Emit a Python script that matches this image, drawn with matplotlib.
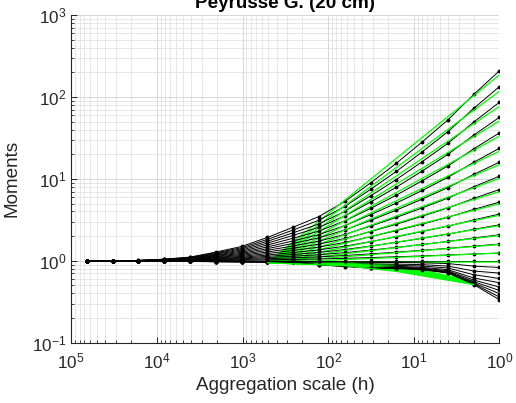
import matplotlib
matplotlib.use("Agg")
import numpy as np
import matplotlib.pyplot as plt

plt.rcParams["font.family"] = ["Liberation Sans", "DejaVu Sans"]
plt.rcParams["mathtext.fontset"] = "custom"
plt.rcParams["mathtext.rm"] = "Liberation Sans"
plt.rcParams["mathtext.it"] = "Liberation Sans:italic"
plt.rcParams["mathtext.bf"] = "Liberation Sans:bold"

# aggregation scales (h), coarse -> fine
scales = [65536, 32768, 16384, 8192, 4096, 2048, 1024, 512, 256,
          128, 64, 32, 16, 8, 4, 2, 1]
q_values = [2.5, 2.4, 2.3, 2.2, 2.1, 2.0, 1.9, 1.8, 1.7, 1.6, 1.5, 1.4, 1.3,
            1.2, 1.1, 1.0, 0.9, 0.8, 0.7, 0.6, 0.5, 0.4, 0.3, 0.2, 0.1]

# log10 of the empirical moments, one row per q (black)
log_moments = [
    [0, 0.001, 0.004, 0.020, 0.045, 0.106, 0.175, 0.285, 0.410, 0.540, 0.724, 0.950, 1.190, 1.450, 1.720, 2.030, 2.320],
    [0, 0.001, 0.004, 0.018, 0.041, 0.097, 0.160, 0.261, 0.376, 0.495, 0.663, 0.871, 1.091, 1.329, 1.576, 1.860, 2.126],
    [0, 0.001, 0.003, 0.017, 0.038, 0.088, 0.146, 0.238, 0.342, 0.450, 0.604, 0.792, 0.992, 1.209, 1.434, 1.693, 1.935],
    [0, 0.001, 0.003, 0.015, 0.034, 0.080, 0.132, 0.215, 0.310, 0.408, 0.547, 0.717, 0.898, 1.095, 1.299, 1.533, 1.752],
    [0, 0.001, 0.003, 0.013, 0.030, 0.071, 0.118, 0.192, 0.276, 0.363, 0.487, 0.639, 0.801, 0.976, 1.158, 1.366, 1.561],
    [0, 0.001, 0.002, 0.012, 0.027, 0.063, 0.104, 0.169, 0.243, 0.320, 0.429, 0.562, 0.704, 0.858, 1.018, 1.202, 1.374],
    [0, 0, 0.002, 0.010, 0.023, 0.055, 0.091, 0.148, 0.213, 0.280, 0.376, 0.493, 0.618, 0.753, 0.893, 1.054, 1.204],
    [0, 0, 0.002, 0.009, 0.020, 0.047, 0.078, 0.127, 0.182, 0.240, 0.322, 0.423, 0.530, 0.645, 0.765, 0.903, 1.033],
    [0, 0, 0.002, 0.008, 0.017, 0.040, 0.066, 0.107, 0.154, 0.203, 0.272, 0.356, 0.446, 0.544, 0.645, 0.761, 0.870],
    [0, 0, 0.001, 0.006, 0.014, 0.033, 0.054, 0.088, 0.127, 0.167, 0.224, 0.294, 0.368, 0.448, 0.531, 0.627, 0.716],
    [0, 0, 0.001, 0.005, 0.011, 0.026, 0.043, 0.070, 0.101, 0.133, 0.178, 0.234, 0.293, 0.357, 0.423, 0.499, 0.570],
    [0, 0, 0.001, 0.004, 0.009, 0.020, 0.033, 0.054, 0.077, 0.102, 0.137, 0.180, 0.225, 0.274, 0.325, 0.384, 0.439],
    [0, 0, 0.001, 0.003, 0.006, 0.015, 0.024, 0.039, 0.056, 0.074, 0.099, 0.130, 0.163, 0.199, 0.236, 0.278, 0.317],
    [0, 0, 0, 0.002, 0.004, 0.009, 0.015, 0.025, 0.036, 0.048, 0.064, 0.084, 0.105, 0.128, 0.151, 0.179, 0.204],
    [0, 0, 0, 0.001, 0.002, 0.004, 0.007, 0.012, 0.017, 0.022, 0.030, 0.039, 0.049, 0.059, 0.071, 0.083, 0.094],
    [0, 0, 0, 0, 0, 0, 0, 0, 0, 0, 0, 0, 0, 0, 0, 0, 0],
    [0, 0, 0, -0.001, -0.002, -0.002, -0.003, -0.004, -0.004, -0.011, -0.016, -0.020, -0.021, -0.025, -0.034, -0.065, -0.082],
    [0, 0, -0.001, -0.002, -0.003, -0.005, -0.006, -0.007, -0.009, -0.022, -0.030, -0.039, -0.041, -0.047, -0.065, -0.125, -0.150],
    [0, 0, -0.001, -0.003, -0.005, -0.006, -0.008, -0.009, -0.012, -0.029, -0.041, -0.053, -0.056, -0.064, -0.088, -0.170, -0.216],
    [0, 0, -0.001, -0.004, -0.006, -0.008, -0.009, -0.012, -0.014, -0.036, -0.051, -0.065, -0.069, -0.080, -0.109, -0.210, -0.268],
    [0, 0, -0.002, -0.004, -0.006, -0.009, -0.011, -0.013, -0.016, -0.041, -0.057, -0.073, -0.077, -0.089, -0.122, -0.235, -0.321],
    [0, 0, -0.002, -0.004, -0.007, -0.010, -0.011, -0.014, -0.018, -0.044, -0.062, -0.079, -0.084, -0.097, -0.132, -0.255, -0.362],
    [0, 0, -0.002, -0.005, -0.007, -0.010, -0.012, -0.015, -0.019, -0.047, -0.065, -0.084, -0.088, -0.102, -0.140, -0.270, -0.402],
    [0, 0, -0.002, -0.005, -0.008, -0.011, -0.013, -0.015, -0.019, -0.048, -0.068, -0.087, -0.092, -0.106, -0.145, -0.280, -0.443],
    [0, 0, -0.002, -0.005, -0.008, -0.011, -0.013, -0.016, -0.020, -0.050, -0.070, -0.090, -0.095, -0.110, -0.150, -0.290, -0.476],
]

# fitted model (green), read at a few scales; low-q fits stop at h = 2
nan = float("nan")
fit_scales = [512, 64, 16, 2, 1]
log_fit = [
    [-0.025, 0.740, 1.250, 2.015, 2.270],
    [-0.025, 0.673, 1.139, 1.837, 2.070],
    [-0.025, 0.612, 1.036, 1.673, 1.885],
    [-0.025, 0.552, 0.937, 1.515, 1.707],
    [-0.025, 0.490, 0.834, 1.349, 1.521],
    [-0.025, 0.430, 0.733, 1.187, 1.339],
    [-0.025, 0.375, 0.641, 1.041, 1.174],
    [-0.025, 0.318, 0.547, 0.891, 1.005],
    [-0.025, 0.265, 0.458, 0.748, 0.845],
    [-0.025, 0.215, 0.376, 0.616, 0.696],
    [-0.025, 0.168, 0.297, 0.491, 0.555],
    [-0.025, 0.126, 0.227, 0.379, 0.429],
    [-0.025, 0.086, 0.161, 0.272, 0.309],
    [-0.025, 0.050, 0.099, 0.174, 0.199],
    [-0.025, 0.015, 0.041, 0.081, 0.094],
    [-0.025, -0.020, -0.020, -0.015, -0.015],
    [-0.025, -0.030, -0.050, -0.250, nan],
    [-0.025, -0.034, -0.060, -0.258, nan],
    [-0.025, -0.038, -0.070, -0.264, nan],
    [-0.025, -0.042, -0.080, -0.270, nan],
    [-0.025, -0.046, -0.090, -0.275, nan],
    [-0.025, -0.050, -0.100, -0.280, nan],
    [-0.025, -0.054, -0.110, -0.284, nan],
    [-0.025, -0.057, -0.120, -0.287, nan],
    [-0.025, -0.060, -0.130, -0.290, nan],
]

fig = plt.figure(figsize=(5.16, 4.03), dpi=100)
ax = fig.add_axes([0.138, 0.1496, 0.830, 0.8132])

for row, frow in zip(log_moments, log_fit):
    ax.plot(scales, 10 ** np.array(row), color="black", lw=0.7,
            marker=".", markersize=3.5, zorder=3)
    ax.plot(fit_scales, 10 ** np.array(frow), color=(0, 1, 0), lw=0.9,
            zorder=3)

ax.set_xscale("log")
ax.set_yscale("log")
ax.set_xlim(1e5, 1e0)
ax.set_ylim(1e-1, 1e3)

ax.grid(True, which="major", color="#d6d6d6", lw=0.7)
ax.grid(True, which="minor", color="#e2e2e2", lw=0.6)
ax.set_axisbelow(True)
for side in ["top", "right"]:
    ax.spines[side].set_visible(False)
for side in ["left", "bottom"]:
    ax.spines[side].set_color("#262626")
    ax.spines[side].set_linewidth(0.8)

ax.tick_params(which="both", direction="in", colors="#262626",
               labelsize=12.3)
ax.tick_params(which="major", length=4, width=0.7)
ax.tick_params(which="minor", length=2.5, width=0.6)
ax.tick_params(axis="x", pad=6)

ax.set_xlabel("Aggregation scale (h)", fontsize=13.6, color="#262626",
              labelpad=4)
ax.set_ylabel("Moments", fontsize=13.6, color="#262626", labelpad=8)
ax.set_title("Peyrusse G. (20 cm)", fontsize=13.6, fontweight="bold",
             color="black", pad=5)

fig.savefig("out.png", dpi=100)
